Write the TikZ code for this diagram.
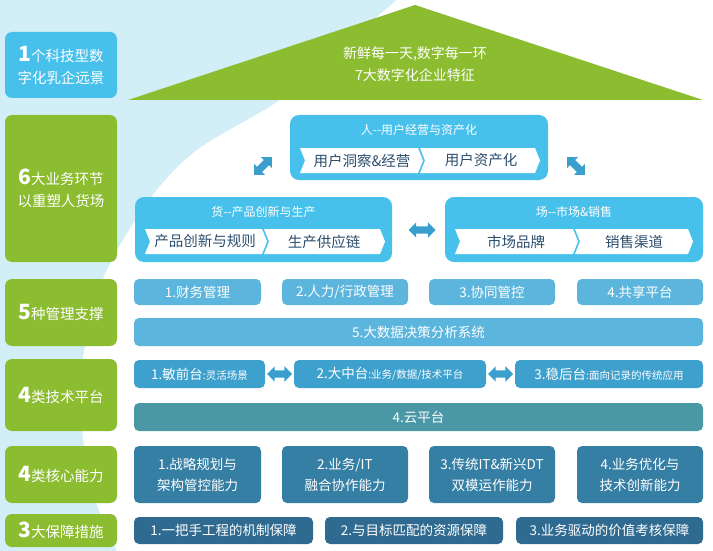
\documentclass[tikz,border=0pt]{standalone}
\usepackage{fontspec}
\setmainfont{Noto Sans CJK SC}
\usetikzlibrary{shapes.arrows}
\definecolor{bgblue}{HTML}{D2EFF8}
\definecolor{skyb}{HTML}{47C1EB}
\definecolor{grn}{HTML}{8CBC2F}
\definecolor{mgmt}{HTML}{5CB5DD}
\definecolor{tech}{HTML}{3DA0CD}
\definecolor{cloud}{HTML}{4A97A5}
\definecolor{core}{HTML}{367FA4}
\definecolor{guar}{HTML}{2F6A90}
\definecolor{arr}{HTML}{3A9FCC}
\definecolor{chevtext}{HTML}{2C4F6E}
\newcommand{\bignum}[1]{{\fontsize{21}{22}\selectfont\bfseries #1}}
\newcommand{\chevshape}[4]{\fill[white] (#1,#3) -- ({#2-5},#3) -- (#2,{(#3+#4)/2}) -- ({#2-5},#4) -- (#1,#4) -- ({#1+5},{(#3+#4)/2}) -- cycle;}
\begin{document}
\begin{tikzpicture}[x=1pt,y=-1pt,
  lbox/.style={rounded corners=7pt, fill=grn, text=white, minimum width=112pt, inner sep=0pt, align=center, font=\fontsize{14.5}{22}\selectfont},
  bigbox/.style={rounded corners=9pt, fill=skyb, minimum width=258pt, minimum height=65pt, inner sep=0pt},
  ttl/.style={text=white, font=\fontsize{12}{14}\selectfont, inner sep=0pt},
  chevlabel/.style={text=chevtext, font=\fontsize{14.5}{16}\selectfont, inner sep=0pt},
  sbox/.style={rounded corners=5pt, text=white, inner sep=0pt, align=center, font=\fontsize{13.5}{21}\selectfont},
  darr/.style={double arrow, fill=arr, inner sep=3.5pt, minimum height=25pt, double arrow head extend=4pt}
]
\useasboundingbox (0,0) rectangle (713,551);
\fill[bgblue] (0,0) rectangle (713,551);
\fill[white] plot[smooth] coordinates {(397,0) (340,48) (280,100) (197,150) (149,200) (106,272) (86,340) (80,400) (86,460) (97,505) (117,551)} -- (713,551) -- (713,0) -- cycle;

% roof
\fill[grn] (415,5) -- (703,100) -- (128,100) -- cycle;
\node[text=white, align=center, inner sep=0pt, font=\fontsize{14}{22}\selectfont] (roof) at (415,64) {新鲜每一天,数字每一环\\7大数字化企业特征};

% left column
\node[lbox, fill=skyb, minimum height=66pt] (b1) at (61,65) {\bignum{1}个科技型数\\字化乳企远景};
\node[lbox, minimum height=147pt] (b2) at (61,188.5) {\bignum{6}大业务环节\\以重塑人货场};
\node[lbox, minimum height=67pt] (b3) at (61,312.5) {\bignum{5}种管理支撑};
\node[lbox, minimum height=72pt] (b4) at (61,395) {\bignum{4}类技术平台};
\node[lbox, minimum height=57pt] (b5) at (61,474.5) {\bignum{4}类核心能力};
\node[lbox, minimum height=33pt] (b6) at (61,530.5) {\bignum{3}大保障措施};

% people / goods / place
\node[bigbox] (ren) at (419,147.5) {};
\node[bigbox, minimum width=257pt] (huo) at (263.5,229.5) {};
\node[bigbox] (chang) at (574,229.5) {};
\node[ttl] (rent) at (419,130) {人-{}-用户经营与资产化};
\node[ttl] (huot) at (263.5,212) {货-{}-产品创新与生产};
\node[ttl] (changt) at (574,212) {场-{}-市场\&销售};

\chevshape{300}{423}{148}{173}
\chevshape{420}{540}{148}{173}
\chevshape{145}{267}{229}{254}
\chevshape{264}{385}{229}{254}
\chevshape{455}{578}{229}{254}
\chevshape{575}{693}{229}{254}
\node[chevlabel] (c1) at (362,160.5) {用户洞察\&经营};
\node[chevlabel] (c2) at (481,160.5) {用户资产化};
\node[chevlabel] (c3) at (205,241.5) {产品创新与规则};
\node[chevlabel] (c4) at (324,241.5) {生产供应链};
\node[chevlabel] (c5) at (516,241.5) {市场品牌};
\node[chevlabel] (c6) at (634,241.5) {销售渠道};

\node[darr, rotate=45] (a1) at (263,166) {};
\node[darr, rotate=-45] (a2) at (576,166) {};
\node[darr, minimum height=27pt] (a3) at (422,230) {};

% management
\node[sbox, fill=mgmt, minimum width=127pt, minimum height=26pt] (m1) at (197.5,292) {1.财务管理};
\node[sbox, fill=mgmt, minimum width=126pt, minimum height=26pt] (m2) at (345,292) {2.人力/行政管理};
\node[sbox, fill=mgmt, minimum width=126pt, minimum height=26pt] (m3) at (492,292) {3.协同管控};
\node[sbox, fill=mgmt, minimum width=126pt, minimum height=26pt] (m4) at (640,292) {4.共享平台};
\node[sbox, fill=mgmt, minimum width=569pt, minimum height=28pt] (m5) at (418.5,332) {5.大数据决策分析系统};

% tech
\node[sbox, fill=tech, minimum width=131pt, minimum height=28pt] (t1) at (199.5,374) {1.敏前台{\fontsize{10.5}{12}\selectfont :灵活场景}};
\node[sbox, fill=tech, minimum width=192pt, minimum height=28pt] (t2) at (390,374) {2.大中台{\fontsize{10.5}{12}\selectfont :业务/数据/技术平台}};
\node[sbox, fill=tech, minimum width=188pt, minimum height=28pt] (t3) at (609,374) {3.稳后台{\fontsize{10.5}{12}\selectfont :面向记录的传统应用}};
\node[sbox, fill=cloud, minimum width=569pt, minimum height=28pt] (t4) at (418.5,417) {4.云平台};
\node[darr, minimum height=25pt] (a4) at (279.5,374) {};
\node[darr, minimum height=25pt] (a5) at (500.5,374) {};

% core
\node[sbox, fill=core, minimum width=127pt, minimum height=57pt] (k1) at (197.5,474.5) {1.战略规划与\\架构管控能力};
\node[sbox, fill=core, minimum width=126pt, minimum height=57pt] (k2) at (345,474.5) {2.业务/IT\\融合协作能力};
\node[sbox, fill=core, minimum width=126pt, minimum height=57pt] (k3) at (492,474.5) {3.传统IT\&新兴DT\\双模运作能力};
\node[sbox, fill=core, minimum width=126pt, minimum height=57pt] (k4) at (640,474.5) {4.业务优化与\\技术创新能力};

% guarantee
\node[sbox, fill=guar, minimum width=179pt, minimum height=27pt] (g1) at (223.5,530.5) {1.一把手工程的机制保障};
\node[sbox, fill=guar, minimum width=178pt, minimum height=27pt] (g2) at (414,530.5) {2.与目标匹配的资源保障};
\node[sbox, fill=guar, minimum width=187pt, minimum height=27pt] (g3) at (609.5,530.5) {3.业务驱动的价值考核保障};
\end{tikzpicture}
\end{document}
